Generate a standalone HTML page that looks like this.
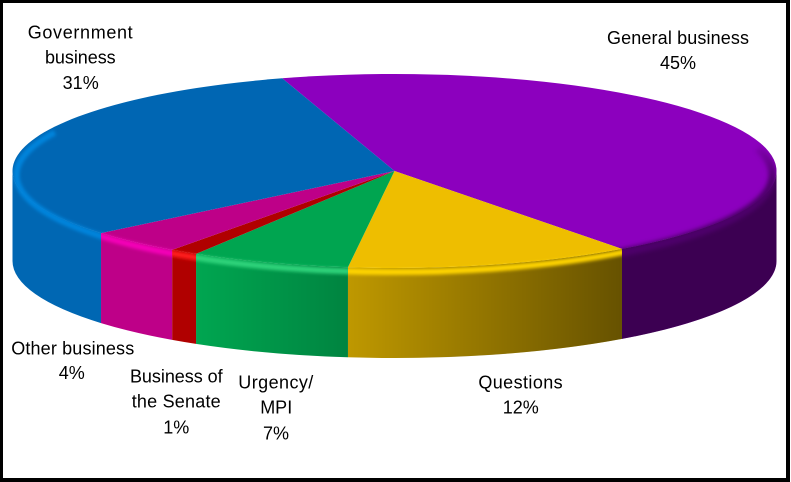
<!DOCTYPE html>
<html>
<head>
<meta charset="utf-8">
<style>
  html, body { margin:0; padding:0; background:#fff; }
  body { width:791px; height:482px; overflow:hidden; }
  svg { display:block; }
  text { font-family: "Liberation Sans", Arial, sans-serif; font-size:18px; fill:#000; }
</style>
</head>
<body>
<svg width="791" height="482" viewBox="0 0 791 482" xmlns="http://www.w3.org/2000/svg">
  <defs>
    <linearGradient id="shade" gradientUnits="userSpaceOnUse" x1="200" y1="0" x2="622" y2="0">
      <stop offset="0" stop-color="#000" stop-opacity="0"/>
      <stop offset="1" stop-color="#000" stop-opacity="0.57"/>
    </linearGradient>
    <linearGradient id="pband" gradientUnits="userSpaceOnUse" x1="0" y1="140" x2="0" y2="180">
      <stop offset="0" stop-color="#4E006A" stop-opacity="0"/>
      <stop offset="1" stop-color="#4E006A" stop-opacity="1"/>
    </linearGradient>
    <filter id="bl" filterUnits="userSpaceOnUse" x="0" y="0" width="791" height="482">
      <feGaussianBlur stdDeviation="1.6"/>
    </filter>
    <filter id="bl2" filterUnits="userSpaceOnUse" x="0" y="0" width="791" height="482">
      <feGaussianBlur stdDeviation="2.2"/>
    </filter>
    <clipPath id="cP">
      <path d="M394.5,171 L282.18,78.29 A382,97 0 0,1 621.97,248.93 Z"/>
      <path d="M776.5,171 A382,97 0 0,1 621.97,248.93 L621.97,338.93 A382,97 0 0,0 776.5,261 Z"/>
    </clipPath>
    <clipPath id="cY">
      <path d="M394.5,171 L621.97,248.93 A382,97 0 0,1 347.95,267.28 Z"/>
      <path d="M621.97,248.93 A382,97 0 0,1 347.95,267.28 L347.95,357.28 A382,97 0 0,0 621.97,338.93 Z"/>
    </clipPath>
    <clipPath id="cG">
      <path d="M394.5,171 L347.95,267.28 A382,97 0 0,1 196.04,253.88 Z"/>
      <path d="M347.95,267.28 A382,97 0 0,1 196.04,253.88 L196.04,343.88 A382,97 0 0,0 347.95,357.28 Z"/>
    </clipPath>
    <clipPath id="cR">
      <path d="M394.5,171 L196.04,253.88 A382,97 0 0,1 172.13,249.87 Z"/>
      <path d="M196.04,253.88 A382,97 0 0,1 172.13,249.87 L172.13,339.87 A382,97 0 0,0 196.04,343.88 Z"/>
    </clipPath>
    <clipPath id="cM">
      <path d="M394.5,171 L172.13,249.87 A382,97 0 0,1 101.02,233.09 Z"/>
      <path d="M172.13,249.87 A382,97 0 0,1 101.02,233.09 L101.02,323.09 A382,97 0 0,0 172.13,339.87 Z"/>
    </clipPath>
    <clipPath id="cB">
      <path d="M394.5,171 L101.02,233.09 A382,97 0 0,1 282.18,78.29 Z"/>
      <path d="M101.02,233.09 A382,97 0 0,1 12.5,171 L12.5,261 A382,97 0 0,0 101.02,323.09 Z"/>
    </clipPath>
  </defs>

  <!-- frame -->
  <rect x="0" y="0" width="790" height="482" fill="#000"/>
  <rect x="3" y="3" width="783" height="475" fill="#fff"/>

  <!-- side faces -->
  <path d="M776.5,171 A382,97 0 0,1 621.97,248.93 L621.97,338.93 A382,97 0 0,0 776.5,261 Z" fill="#8C00BE"/>
  <path d="M621.97,248.93 A382,97 0 0,1 347.95,267.28 L347.95,357.28 A382,97 0 0,0 621.97,338.93 Z" fill="#EEBE00"/>
  <path d="M347.95,267.28 A382,97 0 0,1 196.04,253.88 L196.04,343.88 A382,97 0 0,0 347.95,357.28 Z" fill="#00A550"/>
  <path d="M196.04,253.88 A382,97 0 0,1 172.13,249.87 L172.13,339.87 A382,97 0 0,0 196.04,343.88 Z" fill="#B00000"/>
  <path d="M172.13,249.87 A382,97 0 0,1 101.02,233.09 L101.02,323.09 A382,97 0 0,0 172.13,339.87 Z" fill="#BE0088"/>
  <path d="M101.02,233.09 A382,97 0 0,1 12.5,171 L12.5,261 A382,97 0 0,0 101.02,323.09 Z" fill="#0067B3"/>

  <!-- side shading overlay -->
  <path d="M776.5,171 A382,97 0 0,1 394.5,268 A382,97 0 0,1 12.5,171 L12.5,261 A382,97 0 0,0 394.5,358 A382,97 0 0,0 776.5,261 Z" fill="url(#shade)"/>

  <!-- top faces -->
  <path d="M394.5,171 L282.18,78.29 A382,97 0 0,1 621.97,248.93 Z" fill="#8C00BE"/>
  <path d="M394.5,171 L621.97,248.93 A382,97 0 0,1 347.95,267.28 Z" fill="#EEBE00"/>
  <path d="M394.5,171 L347.95,267.28 A382,97 0 0,1 196.04,253.88 Z" fill="#00A550"/>
  <path d="M394.5,171 L196.04,253.88 A382,97 0 0,1 172.13,249.87 Z" fill="#B00000"/>
  <path d="M394.5,171 L172.13,249.87 A382,97 0 0,1 101.02,233.09 Z" fill="#BE0088"/>
  <path d="M394.5,171 L101.02,233.09 A382,97 0 0,1 282.18,78.29 Z" fill="#0066B3"/>

  <!-- bevel bands -->
  <g clip-path="url(#cP)"><path d="M757.9,148.2 A378,97 0 0,1 583.5,259.0" fill="none" stroke="url(#pband)" stroke-width="8" filter="url(#bl2)"/></g>
  <g clip-path="url(#cY)"><path d="M647.4,247.1 A378,97 0 0,1 315.9,269.9" fill="none" stroke="#FFD400" stroke-width="6" filter="url(#bl)"/></g>
  <g clip-path="url(#cG)"><path d="M381.3,271.9 A378,97 0 0,1 172.3,253.5" fill="none" stroke="#2ED37A" stroke-width="6" filter="url(#bl)"/></g>
  <g clip-path="url(#cR)"><path d="M217.0,260.6 A378,97 0 0,1 156.6,250.4" fill="none" stroke="#FF1A1A" stroke-width="6" filter="url(#bl)"/></g>
  <g clip-path="url(#cM)"><path d="M194.2,257.3 A378,97 0 0,1 84.9,230.6" fill="none" stroke="#F400B8" stroke-width="6" filter="url(#bl)"/></g>
  <g clip-path="url(#cB)"><path d="M122.6,242.4 A378,97 0 0,1 54.8,132.5" fill="none" stroke="#0084DC" stroke-width="6" filter="url(#bl)"/></g>

  <!-- labels -->
  <g text-anchor="middle">
    <text x="80.2" y="38.5" textLength="105">Government</text>
    <text x="80.3" y="63.5" textLength="70.7">business</text>
    <text x="80.7" y="88.8">31%</text>

    <text x="678" y="44" textLength="142">General business</text>
    <text x="678" y="68.8">45%</text>

    <text x="72.7" y="354.3" textLength="123">Other business</text>
    <text x="71.7" y="379">4%</text>

    <text x="176.3" y="382.3" textLength="92.7">Business of</text>
    <text x="176.2" y="407.3" textLength="89">the Senate</text>
    <text x="176.2" y="433.3">1%</text>

    <text x="275.8" y="388.3" textLength="75">Urgency/</text>
    <text x="276.2" y="413.7">MPI</text>
    <text x="276" y="439.3">7%</text>

    <text x="520.5" y="388.3" textLength="84.3">Questions</text>
    <text x="520.8" y="413.3">12%</text>
  </g>
</svg>
</body>
</html>
